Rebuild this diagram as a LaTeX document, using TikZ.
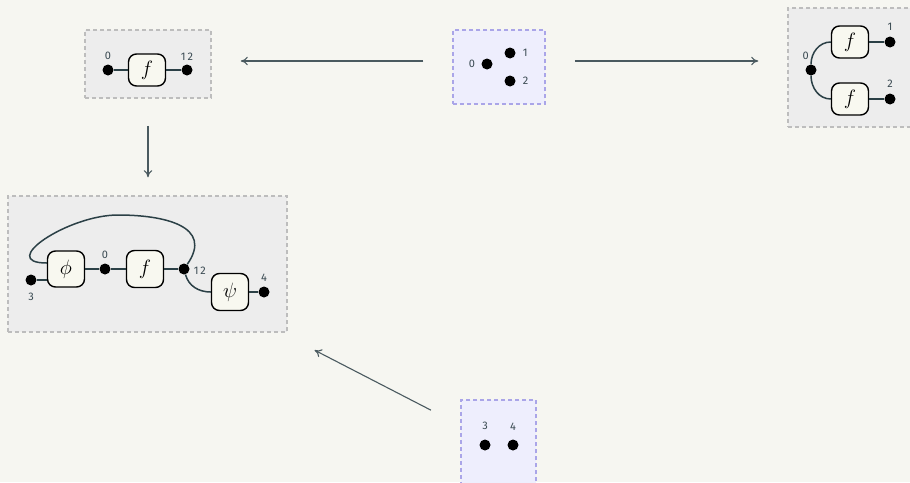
\documentclass[tikz,border=0pt]{standalone}
\usepackage{fontspec}
\setsansfont{Fira Sans}
\usepackage{tikz}
\usetikzlibrary{arrows.meta,positioning,calc}
\definecolor{paper}{HTML}{F6F6F1}
\definecolor{greybox}{HTML}{EDEDED}
\definecolor{greyline}{HTML}{BDBDBD}
\definecolor{purplebox}{HTML}{EEEEFD}
\definecolor{purpleline}{HTML}{AAA5E8}
\definecolor{wire}{HTML}{2B4046}
\definecolor{arrowcol}{HTML}{4A5A60}
\definecolor{labelcol}{HTML}{3A4A52}
\definecolor{boxfill}{HTML}{F8F8F0}

\begin{document}
\begin{tikzpicture}[
  x=1pt,y=1pt,
  >={To[length=2.5mm,width=3mm]},
  grp/.style={draw=greyline,fill=greybox,dash pattern=on 4pt off 3pt,
              line width=1.5pt,inner sep=0pt},
  pgrp/.style={draw=purpleline,fill=purplebox,dash pattern=on 4pt off 3pt,
               line width=1.5pt,inner sep=0pt},
  gen/.style={draw=black,fill=boxfill,rounded corners=8pt,line width=1.4pt,
              minimum width=37pt,minimum height=32pt,inner sep=0pt,
              font=\fontsize{20}{22}\selectfont},
  dot/.style={circle,fill=black,minimum size=11pt,inner sep=0pt},
  lbl/.style={font=\sffamily\fontsize{11}{12}\selectfont,text=labelcol,inner sep=1pt},
  wr/.style={wire,line width=1.5pt},
  map/.style={arrowcol,line width=1.1pt,->}]
\useasboundingbox (0,0) rectangle (910,-482);
\fill[paper] (0,0) rectangle (910,-482);

% the five groups
\node[grp,minimum width=126pt,minimum height=68pt] (A) at (148,-64) {};
\node[pgrp,minimum width=92pt,minimum height=74pt] (B) at (499,-67) {};
\node[grp,minimum width=130pt,minimum height=119pt] (C) at (853,-67.5) {};
\node[grp,minimum width=279pt,minimum height=136pt] (D) at (147.5,-264) {};
\node[pgrp,minimum width=75pt,minimum height=90pt] (E) at (498.5,-445) {};

% group A
\node[gen] (af) at (147,-70) {$f$};
\node[dot] (a0) at (108,-70) {};
\node[dot] (a12) at (187,-70) {};
\node[lbl,above=3pt of a0] {0};
\node[lbl,above=3pt of a12] {1\,2};
\draw[wr] (a0) -- (af) -- (a12);

% group B
\node[dot] (b0) at (487,-64) {};
\node[dot] (b1) at (510,-53) {};
\node[dot] (b2) at (510,-81) {};
\node[lbl,left=5pt of b0] {0};
\node[lbl,right=6pt of b1] {1};
\node[lbl,right=6pt of b2] {2};

% group C
\node[gen] (cf1) at (850,-42) {$f$};
\node[gen] (cf2) at (850,-99) {$f$};
\node[dot] (c0) at (811,-70) {};
\node[dot] (c1) at (890,-42) {};
\node[dot] (c2) at (890,-99) {};
\node[lbl,above left=5pt and -3pt of c0] {0};
\node[lbl,above=5pt of c1] {1};
\node[lbl,above=5pt of c2] {2};
\draw[wr] (c0) to[out=90,in=180] (cf1.west);
\draw[wr] (c0) to[out=-90,in=180] (cf2.west);
\draw[wr] (cf1) -- (c1);
\draw[wr] (cf2) -- (c2);

% group D
\node[gen,minimum height=36pt] (phi) at (66,-269) {$\phi$};
\node[gen,minimum height=37pt] (df) at (145,-269) {$f$};
\node[gen,minimum height=37pt] (psi) at (230,-292) {$\psi$};
\node[dot] (d3) at (31,-280) {};
\node[dot] (d0) at (105,-269) {};
\node[dot] (d12) at (184,-269) {};
\node[dot] (d4) at (264,-292) {};
\coordinate (looptop) at (118,-215);
\node[lbl,below=6pt of d3] {3};
\node[lbl,above=3pt of d0] {0};
\node[lbl,right=3pt of d12,yshift=-2pt] {1\,2};
\node[lbl,above=4pt of d4] {4};
\draw[wr] (d3) -- (d3 -| phi.west);
\draw[wr] (phi) -- (d0) -- (df) -- (d12);
\draw[wr] (psi) -- (d4);
\draw[wr] (d12) to[out=-75,in=180] (psi.west);
\draw[wr] (d12) to[out=55,in=0,looseness=1.4] (looptop)
  to[out=180,in=180,looseness=1.5] ([yshift=6pt]phi.west);

% group E
\node[dot] (e3) at (485,-445) {};
\node[dot] (e4) at (513,-445) {};
\node[lbl,above=8pt of e3] {3};
\node[lbl,above=8pt of e4] {4};

% maps between groups
\draw[map,shorten <=29pt,shorten >=29pt] ([yshift=6pt]B.west) -- ([yshift=6pt]B.west -| A.east);
\draw[map,shorten <=29pt,shorten >=29pt] ([yshift=6pt]B.east) -- ([yshift=6pt]B.east -| C.west);
\draw[map,shorten <=27pt,shorten >=18pt] (A.south) -- (A.south |- D.north);
\draw[map,shorten <=33pt,shorten >=38pt] (E) -- (D);
\end{tikzpicture}
\end{document}
